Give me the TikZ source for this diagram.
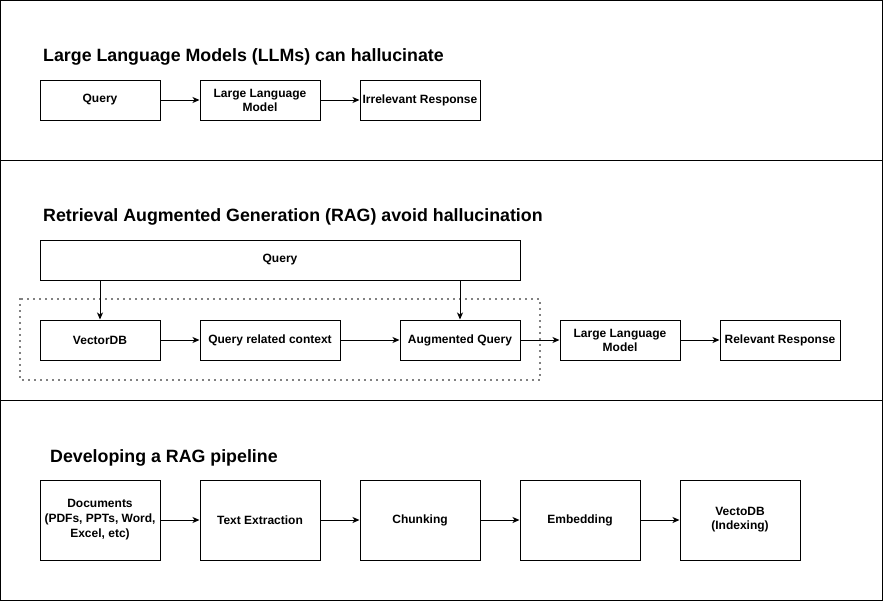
\documentclass[tikz,border=0pt]{standalone}
\usepackage{fontspec}
\setmainfont{Liberation Sans}
\usetikzlibrary{arrows.meta}
\begin{document}
\begin{tikzpicture}[x=1pt,y=-1pt,
  box/.style={draw=black,line width=1pt,fill=white,inner sep=1pt,align=center,
    font=\fontsize{12}{14}\selectfont\bfseries},
  ttl/.style={anchor=base west,inner sep=0pt,font=\fontsize{17.8}{20}\selectfont\bfseries},
  arr/.style={draw=black,line width=1pt,-{Stealth[length=7pt,width=6pt,inset=2pt]}},
  frame/.style={draw=black,line width=1pt}]
\useasboundingbox (0,0) rectangle (883,603);
% panels
\draw[frame] (0.5,0.5) rectangle (882,160);
\draw[frame] (0.5,160) rectangle (882,400);
\draw[frame] (0.5,400) rectangle (882,600.5);
% section 1
\node[ttl] (t1) at (43,61) {Large Language Models (LLMs) can hallucinate};
\node[box,minimum width=120pt,minimum height=40pt] (q1) at (100,100) {Query};
\node[box,minimum width=120pt,minimum height=40pt] (l1) at (260,100) {Large Language\\Model};
\node[box,minimum width=120pt,minimum height=40pt] (r1) at (420,100) {Irrelevant Response};
\draw[arr] (q1) -- (l1);
\draw[arr] (l1) -- (r1);
% section 2
\node[ttl] (t2) at (43,221) {Retrieval Augmented Generation (RAG) avoid hallucination};
\draw[line width=1.6pt,dash pattern=on 0pt off 6pt,line cap=round] (20,299) rectangle (540,380);
\node[box,minimum width=480pt,minimum height=40pt] (q2) at (280,260) {Query};
\node[box,minimum width=120pt,minimum height=40pt] (v2) at (100,340) {VectorDB};
\node[box,minimum width=140pt,minimum height=40pt] (c2) at (270,340) {Query related context};
\node[box,minimum width=120pt,minimum height=40pt] (a2) at (460,340) {Augmented Query};
\node[box,minimum width=120pt,minimum height=40pt] (l2) at (620,340) {Large Language\\Model};
\node[box,minimum width=120pt,minimum height=40pt] (r2) at (780,340) {Relevant Response};
\draw[arr] (q2.south -| v2.north) -- (v2.north);
\draw[arr] (q2.south -| a2.north) -- (a2.north);
\draw[arr] (v2) -- (c2);
\draw[arr] (c2) -- (a2);
\draw[arr] (a2) -- (l2);
\draw[arr] (l2) -- (r2);
% section 3
\node[ttl] (t3) at (50,462) {Developing a RAG pipeline};
\node[box,minimum width=120pt,minimum height=80pt,font=\fontsize{12}{15}\selectfont\bfseries] (d3) at (100,520) {Documents\\(PDFs, PPTs, Word,\\Excel, etc)};
\node[box,minimum width=120pt,minimum height=80pt] (e3) at (260,520) {Text Extraction};
\node[box,minimum width=120pt,minimum height=80pt] (k3) at (420,520) {Chunking};
\node[box,minimum width=120pt,minimum height=80pt] (m3) at (580,520) {Embedding};
\node[box,minimum width=120pt,minimum height=80pt] (x3) at (740,520) {VectoDB\\(Indexing)};
\draw[arr] (d3) -- (e3);
\draw[arr] (e3) -- (k3);
\draw[arr] (k3) -- (m3);
\draw[arr] (m3) -- (x3);
\end{tikzpicture}
\end{document}
